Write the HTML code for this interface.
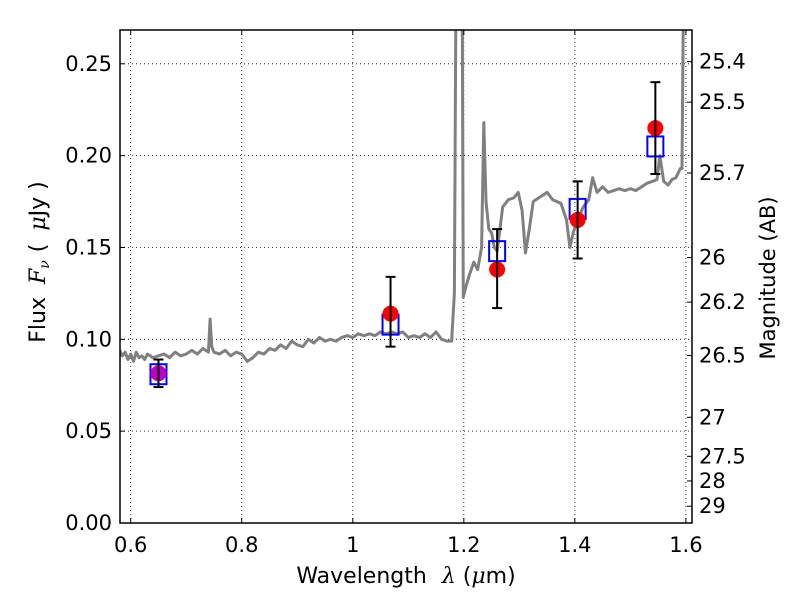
<!DOCTYPE html>
<html><head><meta charset="utf-8"><style>
body{margin:0;background:#fff;}
svg{display:block;font-family:"DejaVu Sans","Liberation Sans",sans-serif;}
</style></head><body>
<svg id="chart" width="800" height="600">
<rect width="800" height="600" fill="#fff"/>
<g id="grid"></g><g id="spec"></g><g id="marks"></g><g id="axes"></g>
</svg>
<script>
const specWave=[0.58,0.585,0.59,0.595,0.6,0.605,0.61,0.615,0.62,0.625,0.63,0.64,0.65,0.66,0.67,0.68,0.69,0.7,0.71,0.72,0.73,0.74,0.743,0.746,0.75,0.76,0.77,0.78,0.79,0.8,0.81,0.82,0.83,0.84,0.85,0.86,0.87,0.88,0.89,0.9,0.91,0.92,0.93,0.94,0.95,0.96,0.97,0.98,0.99,1.0,1.01,1.02,1.03,1.04,1.05,1.06,1.07,1.08,1.09,1.1,1.11,1.12,1.13,1.14,1.15,1.16,1.17,1.178,1.183,1.186,1.19,1.197,1.199,1.205,1.21,1.218,1.225,1.232,1.236,1.24,1.245,1.25,1.255,1.26,1.265,1.27,1.28,1.29,1.298,1.305,1.311,1.318,1.325,1.34,1.35,1.36,1.375,1.385,1.391,1.397,1.405,1.415,1.425,1.432,1.44,1.45,1.46,1.47,1.48,1.49,1.5,1.51,1.52,1.53,1.54,1.548,1.553,1.56,1.568,1.575,1.582,1.59,1.593,1.596,1.6];
const specFlux=[0.094,0.091,0.093,0.089,0.092,0.088,0.093,0.090,0.091,0.089,0.092,0.090,0.091,0.092,0.090,0.093,0.091,0.092,0.094,0.092,0.095,0.093,0.111,0.096,0.093,0.092,0.094,0.091,0.093,0.092,0.088,0.090,0.093,0.092,0.095,0.094,0.097,0.095,0.099,0.097,0.096,0.100,0.098,0.101,0.099,0.100,0.099,0.101,0.102,0.101,0.103,0.102,0.103,0.102,0.104,0.103,0.104,0.103,0.104,0.101,0.102,0.101,0.103,0.101,0.104,0.100,0.099,0.099,0.125,0.300,0.300,0.300,0.123,0.130,0.135,0.142,0.138,0.150,0.218,0.175,0.160,0.158,0.150,0.148,0.160,0.172,0.176,0.177,0.180,0.170,0.147,0.160,0.175,0.178,0.180,0.176,0.174,0.165,0.150,0.158,0.165,0.172,0.176,0.188,0.180,0.183,0.180,0.181,0.182,0.181,0.182,0.181,0.183,0.185,0.186,0.187,0.200,0.186,0.184,0.187,0.188,0.193,0.193,0.300,0.300];
const photWave=[0.65,1.068,1.26,1.405,1.545];
const photFlux=[0.0815,0.114,0.138,0.165,0.215];
const photLo=[0.074,0.096,0.117,0.144,0.190];
const photHi=[0.089,0.134,0.160,0.186,0.240];
const modelFlux=[0.081,0.108,0.148,0.171,0.205];
const xTicks=[0.6,0.8,1.0,1.2,1.4,1.6];
const xTickLabels=["0.6","0.8","1","1.2","1.4","1.6"];
const yTicks=[0,0.05,0.10,0.15,0.20,0.25];
const yTickLabels=["0.00","0.05","0.10","0.15","0.20","0.25"];
const magTicks=[25.4,25.5,25.7,26,26.2,26.5,27,27.5,28,29];
const magTickLabels=["25.4","25.5","25.7","26","26.2","26.5","27","27.5","28","29"];

const L=120,R=692,T=30,B=523,X0=0.5807,X1=1.611,Y0=0,Y1=0.2684;
const xs=v=>L+(v-X0)/(X1-X0)*(R-L);
const ys=v=>B-(v-Y0)/(Y1-Y0)*(B-T);
const NS="http://www.w3.org/2000/svg";
function mk(tag,attrs,parent,text){const e=document.createElementNS(NS,tag);for(const k in attrs)e.setAttribute(k,attrs[k]);if(text!==undefined)e.textContent=text;parent.appendChild(e);return e;}
const grid=document.getElementById('grid'),spec=document.getElementById('spec'),marks=document.getElementById('marks'),axes=document.getElementById('axes');

mk('defs',{},document.getElementById('chart')).innerHTML='<clipPath id="clip"><rect x="120" y="30" width="572" height="493"/></clipPath>';
spec.setAttribute('clip-path','url(#clip)');

xTicks.forEach((t,i)=>{
 const x=xs(t);
 const g=mk('line',{x1:x,x2:x,y1:T,y2:B,stroke:'#000','stroke-width':0.8,'stroke-dasharray':'1,3'},grid);
 
 
 mk('line',{x1:x,x2:x,y1:B,y2:B-5,stroke:'#000'},axes);
 mk('line',{x1:x,x2:x,y1:T,y2:T+5,stroke:'#000'},axes);
 const lb=mk('text',{x:x,y:B+29,'font-size':21,'text-anchor':'middle'},axes,xTickLabels[i]);
 
 
});
yTicks.forEach((t,i)=>{
 const y=ys(t);
 const g=mk('line',{x1:L,x2:R,y1:y,y2:y,stroke:'#000','stroke-width':0.8,'stroke-dasharray':'1,3'},grid);
 
 
 mk('line',{x1:L,x2:L+5,y1:y,y2:y,stroke:'#000'},axes);
 const lb=mk('text',{x:L-8,y:y+7,'font-size':21,'text-anchor':'end'},axes,yTickLabels[i]);
 
 
});
magTicks.forEach((m,i)=>{
 const f=Math.pow(10,-(m-23.9)/2.5);
 const y=ys(f);
 mk('line',{x1:R,x2:R-5,y1:y,y2:y,stroke:'#000'},axes);
 const lb=mk('text',{x:R+7,y:y+7,'font-size':21},axes,magTickLabels[i]);
 
 
});

const sp=mk('polyline',{points:specWave.map((w,i)=>xs(w)+','+ys(specFlux[i])).join(' '),fill:'none',stroke:'#808080','stroke-width':3,'stroke-linejoin':'round'},spec);



photWave.forEach((w,i)=>{
 const x=xs(w);
 const sq=mk('rect',{x:x-8,y:ys(modelFlux[i])-10,width:16,height:20,fill:'none',stroke:'#0000ff','stroke-width':2},marks);
 
 
 const c=mk('circle',{cx:x,cy:ys(photFlux[i]),r:8,fill:i===0?'#bf00bf':'#ff0000'},marks);
 
 
 const eb=mk('g',{stroke:'#000','stroke-width':2},marks);
 
 
 mk('line',{x1:x,x2:x,y1:ys(photLo[i]),y2:ys(photHi[i])},eb);
 mk('line',{x1:x-5,x2:x+5,y1:ys(photLo[i]),y2:ys(photLo[i])},eb);
 mk('line',{x1:x-5,x2:x+5,y1:ys(photHi[i]),y2:ys(photHi[i])},eb);
});

const fr=mk('rect',{x:L,y:T,width:R-L,height:B-T,fill:'none',stroke:'#000','stroke-width':1.5},axes);


const xl=mk('text',{x:406,y:583,'font-size':22,'text-anchor':'middle','xml:space':'preserve'},axes);
xl.innerHTML='Wavelength  <tspan dx="8" font-style="italic" font-family="DejaVu Serif, serif">λ</tspan> (<tspan font-style="italic" font-family="DejaVu Serif, serif">μ</tspan>m)';


const yl=mk('text',{transform:'translate(45,262) rotate(-90)','font-size':22,'text-anchor':'middle'},axes);
yl.innerHTML='Flux  <tspan dx="6" font-style="italic" font-family="DejaVu Serif, serif">F</tspan><tspan font-style="italic" font-size="14" dy="4" font-family="DejaVu Serif, serif">ν</tspan><tspan dy="-4" dx="8">(  </tspan><tspan dx="6" font-style="italic" font-family="DejaVu Serif, serif">μ</tspan>Jy )';


const rl=mk('text',{transform:'translate(775,278) rotate(-90)','font-size':21,'text-anchor':'middle'},axes,'Magnitude (AB)');


</script>
</body></html>
